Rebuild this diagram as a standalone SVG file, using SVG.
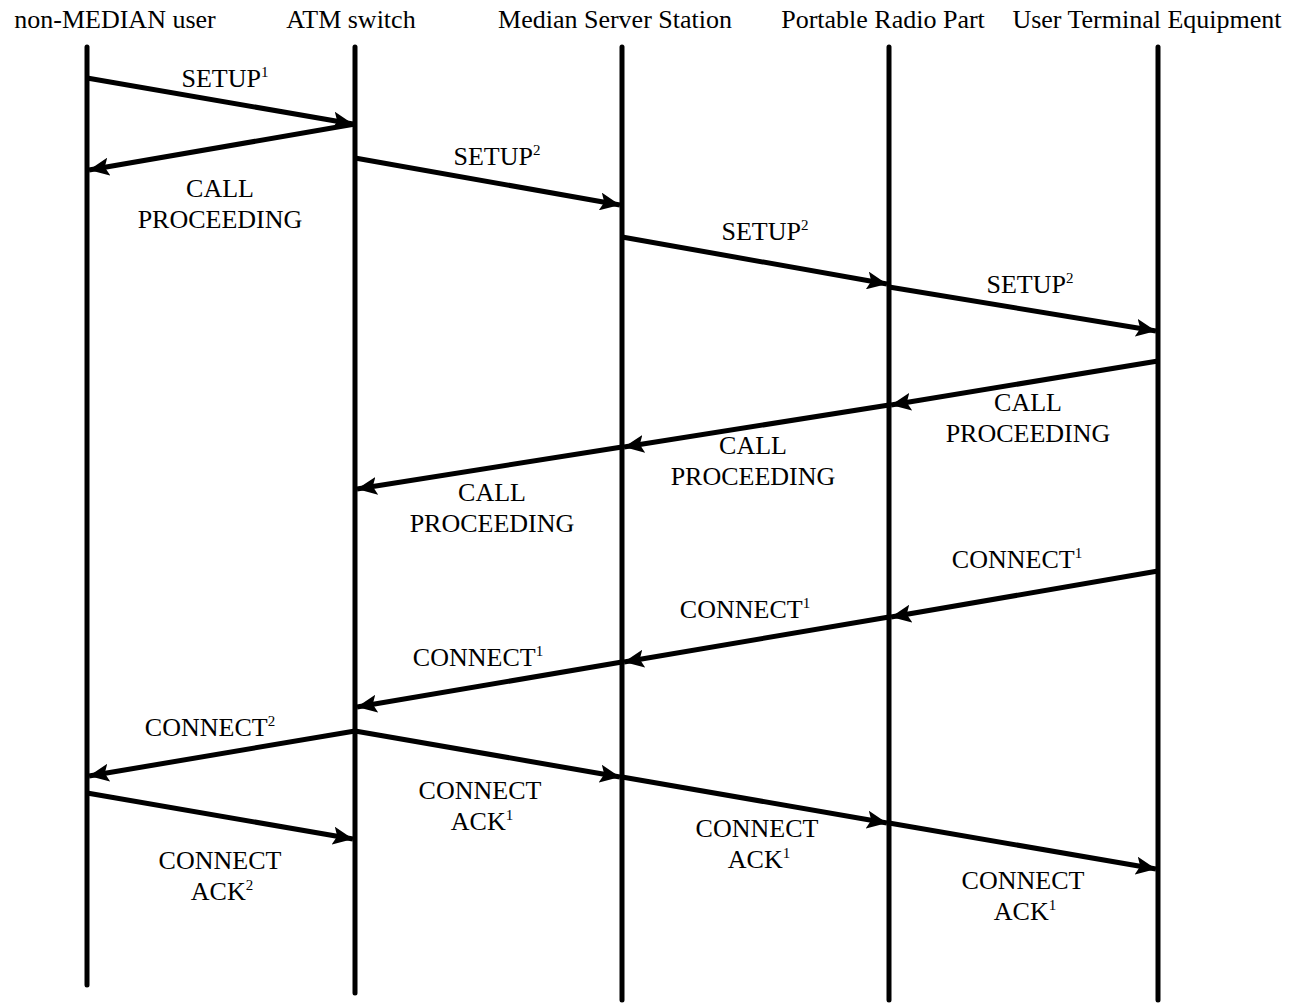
<svg xmlns="http://www.w3.org/2000/svg" width="1303" height="1003" viewBox="0 0 1303 1003">
<style>
text{font-family:"Liberation Serif","Times New Roman",serif;font-size:26px;fill:#000;text-anchor:middle}
.sup{font-size:15px}
.life{stroke:#000;stroke-width:5;stroke-linecap:round}
.msg{stroke:#000;stroke-width:5;fill:none;marker-end:url(#ah)}
</style>
<defs>
<marker id="ah" markerUnits="userSpaceOnUse" markerWidth="22" markerHeight="18" refX="20" refY="9" orient="auto">
<path d="M0,0 L20,9 L0,18 L4,9 Z" fill="#000"/>
</marker>
</defs>
<rect width="1303" height="1003" fill="#fff"/>
<g id="n-nonmedian"><text x="115" y="28">non-MEDIAN user</text><line class="life" x1="87" y1="47" x2="87" y2="985"/></g>
<g id="n-atm"><text x="351" y="28">ATM switch</text><line class="life" x1="355" y1="47" x2="355" y2="993"/></g>
<g id="n-mss"><text x="615" y="28">Median Server Station</text><line class="life" x1="622" y1="47" x2="622" y2="1000"/></g>
<g id="n-prp"><text x="883" y="28">Portable Radio Part</text><line class="life" x1="889" y1="47" x2="889" y2="1000"/></g>
<g id="n-ute"><text x="1147" y="28">User Terminal Equipment</text><line class="life" x1="1158" y1="47" x2="1158" y2="1000"/></g>
<g id="connectors">
<line class="msg" x1="87" y1="78" x2="353" y2="124"/>
<line class="msg" x1="355" y1="124" x2="89" y2="170"/>
<line class="msg" x1="355" y1="158" x2="620" y2="205"/>
<line class="msg" x1="622" y1="237" x2="887" y2="284"/>
<line class="msg" x1="889" y1="287" x2="1156" y2="331"/>
<line class="msg" x1="1158" y1="361" x2="891" y2="405"/>
<line class="msg" x1="889" y1="405" x2="624" y2="447"/>
<line class="msg" x1="622" y1="447" x2="357" y2="489"/>
<line class="msg" x1="1158" y1="571" x2="891" y2="617"/>
<line class="msg" x1="889" y1="617" x2="624" y2="662"/>
<line class="msg" x1="622" y1="662" x2="357" y2="707"/>
<line class="msg" x1="355" y1="731" x2="89" y2="776"/>
<line class="msg" x1="87" y1="793" x2="353" y2="839"/>
<line class="msg" x1="355" y1="731" x2="620" y2="777"/>
<line class="msg" x1="622" y1="777" x2="887" y2="823"/>
<line class="msg" x1="889" y1="823" x2="1156" y2="869"/>
</g>
<g id="labels">
<text x="225" y="87">SETUP<tspan class="sup" dy="-10">1</tspan></text>
<text x="220" y="197">CALL</text><text x="220" y="228">PROCEEDING</text>
<text x="497" y="165">SETUP<tspan class="sup" dy="-10">2</tspan></text>
<text x="765" y="240">SETUP<tspan class="sup" dy="-10">2</tspan></text>
<text x="1030" y="293">SETUP<tspan class="sup" dy="-10">2</tspan></text>
<text x="1028" y="411">CALL</text><text x="1028" y="442">PROCEEDING</text>
<text x="753" y="454">CALL</text><text x="753" y="485">PROCEEDING</text>
<text x="492" y="501">CALL</text><text x="492" y="532">PROCEEDING</text>
<text x="1017" y="568">CONNECT<tspan class="sup" dy="-10">1</tspan></text>
<text x="745" y="618">CONNECT<tspan class="sup" dy="-10">1</tspan></text>
<text x="478" y="666">CONNECT<tspan class="sup" dy="-10">1</tspan></text>
<text x="210" y="736">CONNECT<tspan class="sup" dy="-10">2</tspan></text>
<text x="220" y="869">CONNECT</text><text x="222" y="900">ACK<tspan class="sup" dy="-10">2</tspan></text>
<text x="480" y="799">CONNECT</text><text x="482" y="830">ACK<tspan class="sup" dy="-10">1</tspan></text>
<text x="757" y="837">CONNECT</text><text x="759" y="868">ACK<tspan class="sup" dy="-10">1</tspan></text>
<text x="1023" y="889">CONNECT</text><text x="1025" y="920">ACK<tspan class="sup" dy="-10">1</tspan></text>
</g>
</svg>
